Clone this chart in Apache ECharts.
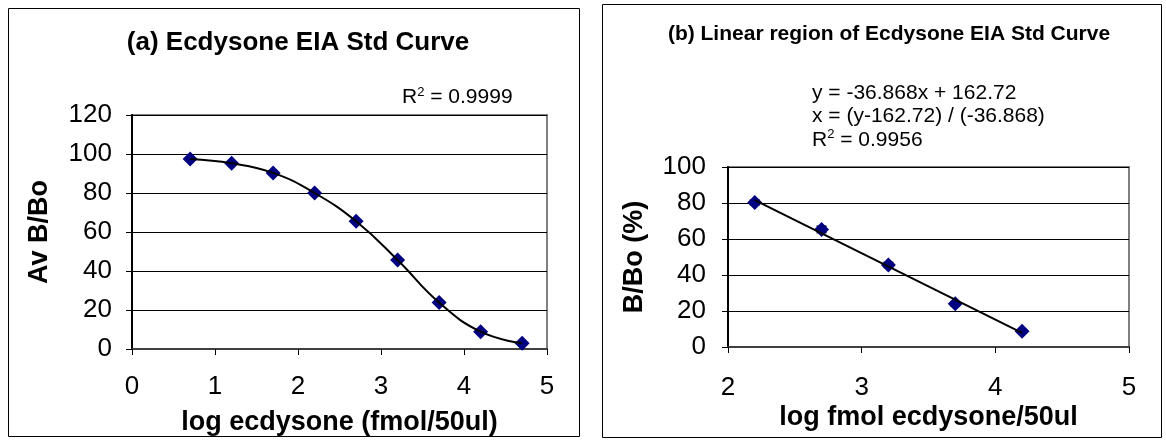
<!DOCTYPE html>
<html>
<head>
<meta charset="utf-8">
<script src="https://cdn.jsdelivr.net/npm/echarts@6/dist/echarts.min.js"></script>
<style>
  html, body { margin: 0; padding: 0; background: #fff; }
  #chart { width: 1166px; height: 444px; }
</style>
</head>
<body>
<div id="chart"></div>
<script>
const FONT = 'Arial, "Liberation Sans", sans-serif'

// (a) full standard curve
const logDoseA = [0.7, 1.2, 1.7, 2.2, 2.7, 3.2, 3.7, 4.2, 4.7]
const bBoA = [97.4, 95.2, 90.3, 80.0, 65.5, 45.6, 23.8, 8.9, 2.9]

// (b) linear region
const logDoseB = [2.2, 2.7, 3.2, 3.7, 4.2]
const bBoB = [80.3, 65.3, 45.6, 24.0, 8.7]
const errB = [1.3, 1.8, 1.4, 1.1, 0.9]
// trendline ends, from y = -36.868x + 162.72
const trendX = [2.2, 4.2]
const trendY = [81.6, 7.9]

const xTicksA = [0, 5, 1]
const yTicksA = [0, 120, 20]
const xTicksB = [2, 5, 1]
const yTicksB = [0, 100, 20]

const pairs = (xs, ys) => xs.map((x, i) => [x, ys[i]])

const chart = echarts.init(document.getElementById('chart'))

function valueAxis(ticks, gridIndex, name, isY, nameGap, labelMargin) {
  return {
    type: 'value',
    gridIndex,
    min: ticks[0], max: ticks[1], interval: ticks[2],
    name,
    nameLocation: 'middle',
    nameGap,
    nameTextStyle: { fontFamily: FONT, fontSize: 27, fontWeight: 'bold', color: '#000' },
    axisLine: { show: true, onZero: false, lineStyle: { color: isY ? '#000' : '#404040', width: 2 } },
    axisTick: { show: true, length: 6, lineStyle: { color: '#000' } },
    axisLabel: { fontFamily: FONT, fontSize: 26, color: '#000', margin: labelMargin },
    splitLine: { show: isY, lineStyle: { color: '#000', width: 1 } },
  }
}

const supRich = { sup: { fontSize: 13, verticalAlign: 'top', padding: [0, 0, 10, 0] } }

chart.setOption({
  animation: false,
  title: [
    {
      text: '(a) Ecdysone EIA Std Curve',
      left: 293, top: 25, textAlign: 'center',
      textStyle: { fontFamily: FONT, fontSize: 26, fontWeight: 'bold', color: '#000' },
    },
    {
      text: '(b) Linear region of Ecdysone EIA Std Curve',
      left: 884, top: 19, textAlign: 'center',
      textStyle: { fontFamily: FONT, fontSize: 21, fontWeight: 'bold', color: '#000' },
    },
  ],
  grid: [
    { left: 132, top: 115, width: 415, height: 234, show: true, borderColor: '#808080', borderWidth: 2 },
    { left: 728, top: 167, width: 401, height: 180, show: true, borderColor: '#808080', borderWidth: 2 },
  ],
  xAxis: [
    valueAxis(xTicksA, 0, 'log ecdysone (fmol/50ul)', false, 60, 25),
    valueAxis(xTicksB, 1, 'log fmol ecdysone/50ul', false, 57, 28),
  ],
  yAxis: [
    valueAxis(yTicksA, 0, 'Av B/Bo', true, 79, 20),
    valueAxis(yTicksB, 1, 'B/Bo (%)', true, 80, 22),
  ],
  graphic: [
    { type: 'rect', shape: { x: 8.5, y: 8.5, width: 571, height: 428 }, style: { fill: 'none', stroke: '#000', lineWidth: 1 } },
    { type: 'rect', shape: { x: 602.5, y: 4.5, width: 559, height: 433 }, style: { fill: 'none', stroke: '#000', lineWidth: 1 } },
    {
      type: 'text', left: 402, top: 86,
      style: { text: 'R{sup|2} = 0.9999', font: '21px ' + FONT, fill: '#000', rich: supRich },
    },
    {
      type: 'text', left: 812, top: 81,
      style: {
        text: 'y = -36.868x + 162.72\nx = (y-162.72) / (-36.868)\nR{sup|2} = 0.9956',
        font: '21px ' + FONT, fill: '#000', lineHeight: 23.5,
        rich: { sup: { fontSize: 13, verticalAlign: 'top', padding: [0, 0, 10, 0], lineHeight: 23.5 } },
      },
    },
  ],
  series: [
    {
      type: 'scatter', xAxisIndex: 0, yAxisIndex: 0,
      data: pairs(logDoseA, bBoA),
      symbol: 'diamond', symbolSize: 15,
      itemStyle: { color: '#000080', opacity: 1 },
      z: 2,
    },
    {
      type: 'line', xAxisIndex: 0, yAxisIndex: 0,
      data: pairs(logDoseA, bBoA),
      smooth: 0.45, showSymbol: false,
      lineStyle: { color: '#000', width: 2 },
      z: 3,
    },
    {
      type: 'custom', xAxisIndex: 1, yAxisIndex: 1,
      data: logDoseB.map((x, i) => [x, bBoB[i] - errB[i], bBoB[i] + errB[i]]),
      renderItem(params, api) {
        const lo = api.coord([api.value(0), api.value(1)])
        const hi = api.coord([api.value(0), api.value(2)])
        const w = 5
        const style = { stroke: '#000', lineWidth: 1.5 }
        return {
          type: 'group',
          children: [
            { type: 'line', shape: { x1: lo[0], y1: lo[1], x2: hi[0], y2: hi[1] }, style },
            { type: 'line', shape: { x1: lo[0] - w, y1: lo[1], x2: lo[0] + w, y2: lo[1] }, style },
            { type: 'line', shape: { x1: hi[0] - w, y1: hi[1], x2: hi[0] + w, y2: hi[1] }, style },
          ],
        }
      },
      z: 1,
    },
    {
      type: 'scatter', xAxisIndex: 1, yAxisIndex: 1,
      data: pairs(logDoseB, bBoB),
      symbol: 'diamond', symbolSize: 15,
      itemStyle: { color: '#000080', opacity: 1 },
      z: 2,
    },
    {
      type: 'line', xAxisIndex: 1, yAxisIndex: 1,
      data: pairs(trendX, trendY),
      showSymbol: false,
      lineStyle: { color: '#000', width: 2 },
      z: 3,
    },
  ],
})
</script>
</body>
</html>
